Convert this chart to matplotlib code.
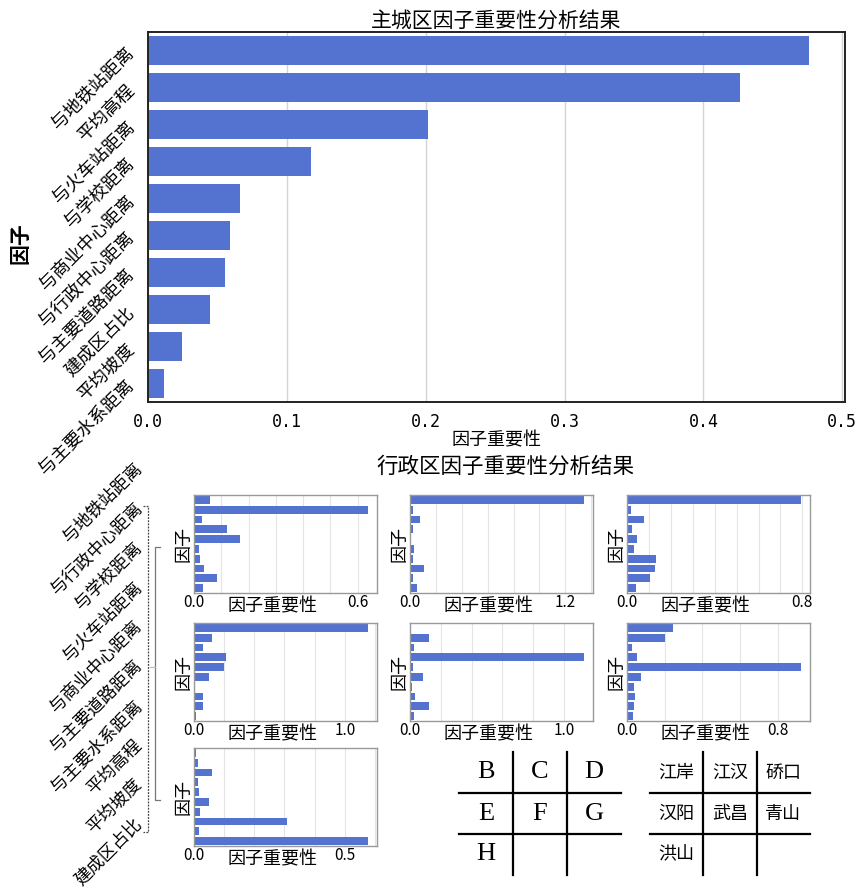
import numpy as np
import matplotlib.pyplot as plt
from matplotlib.ticker import MultipleLocator, FuncFormatter

plt.rcParams['font.family'] = ['Noto Sans CJK SC', 'DejaVu Sans']

BAR_COLOR = '#5472d0'

# 主城区
main_factors = ['与地铁站距离', '平均高程', '与火车站距离', '与学校距离', '与商业中心距离',
                '与行政中心距离', '与主要道路距离', '建成区占比', '平均坡度', '与主要水系距离']
main_importance = [0.476, 0.4265, 0.2015, 0.1175, 0.0663, 0.0590, 0.0555, 0.0447, 0.0245, 0.0115]

# 各行政区
district_factors = ['与地铁站距离', '与行政中心距离', '与学校距离', '与火车站距离', '与商业中心距离',
                    '与主要道路距离', '与主要水系距离', '平均高程', '平均坡度', '建成区占比']
jiangan = [0.059, 0.639, 0.029, 0.121, 0.168, 0.018, 0.022, 0.038, 0.085, 0.034]
jianghan = [1.346, 0.023, 0.075, 0.023, 0.002, 0.034, 0.020, 0.106, 0.027, 0.054]
qiaokou = [0.795, 0.020, 0.076, 0.024, 0.044, 0.034, 0.134, 0.129, 0.105, 0.041]
hanyang = [1.156, 0.120, 0.063, 0.213, 0.196, 0.100, 0.009, 0.058, 0.063, 0.016]
wuchang = [0.007, 0.122, 0.028, 1.131, 0.017, 0.087, 0.011, 0.035, 0.122, 0.024]
qingshan = [0.242, 0.200, 0.027, 0.051, 0.924, 0.074, 0.039, 0.044, 0.039, 0.030]
hongshan = [0.008, 0.012, 0.060, 0.013, 0.016, 0.049, 0.019, 0.309, 0.018, 0.578]
district_values = [jiangan, jianghan, qiaokou, hanyang, wuchang, qingshan, hongshan]
district_grid_step = [0.1, 0.2, 0.1, 0.2, 0.2, 0.2, 0.1]
district_tick_label = [0.6, 1.2, 0.8, 1.0, 1.0, 0.8, 0.5]

letter_codes = [['B', 'C', 'D'], ['E', 'F', 'G'], ['H', '', '']]
district_names = [['江岸', '江汉', '硚口'], ['汉阳', '武昌', '青山'], ['洪山', '', '']]

W, H = 857, 894
fig = plt.figure(figsize=(W / 100, H / 100), dpi=100)


def px_rect(x0, y0, x1, y1):
    return [x0 / W, 1 - y1 / H, (x1 - x0) / W, (y1 - y0) / H]


# ---- top: whole city ----
ax = fig.add_axes(px_rect(148, 32, 845, 402))
ypos = np.arange(len(main_factors))
ax.barh(ypos, main_importance, height=0.8, color=BAR_COLOR, zorder=2)
ax.set_ylim(len(main_factors) - 0.5, -0.5)
ax.set_xlim(0, 0.502)
ax.set_xticks(np.arange(0, 0.51, 0.1))
ax.xaxis.set_major_formatter(FuncFormatter(lambda v, p: f'{v:.1f}'))
ax.grid(axis='x', color='#d4d4d4', lw=1, zorder=0)
ax.set_yticks(ypos)
ax.set_yticklabels(main_factors, rotation=45, ha='right', va='center',
                   rotation_mode='anchor', fontsize=13)
ax.tick_params(axis='y', length=0, pad=12)
ax.tick_params(axis='x', length=0, pad=8)
for lab in ax.get_xticklabels():
    lab.set_fontfamily('DejaVu Sans Mono')
    lab.set_fontsize(12)
for s in ax.spines.values():
    s.set_color('#222222')
    s.set_linewidth(1.4)
ax.set_title('主城区因子重要性分析结果', fontsize=15, pad=2)
ax.set_xlabel('因子重要性', fontsize=13, labelpad=0)
ax.set_ylabel('因子', fontsize=15, fontweight='bold', va='center')
ax.yaxis.set_label_coords(-0.184, 0.43)

# ---- bottom: districts ----
col_x = [194, 410, 627]
row_y = [495, 623, 748]
for k, vals in enumerate(district_values):
    r, c = divmod(k, 3)
    x0, y0 = col_x[c], row_y[r]
    a = fig.add_axes(px_rect(x0, y0, x0 + 183, y0 + 98))
    yp = np.arange(len(district_factors))
    a.barh(yp, vals, height=0.8, color=BAR_COLOR, zorder=2)
    a.set_ylim(len(district_factors) - 0.5, -0.5)
    a.set_yticks([])
    step = district_grid_step[k]
    lab_v = district_tick_label[k]
    a.xaxis.set_major_locator(MultipleLocator(step))
    a.xaxis.set_major_formatter(FuncFormatter(
        lambda v, p, lv=lab_v: f'{v:.1f}' if abs(v) < 1e-9 or abs(v - lv) < 1e-9 else ''))
    a.grid(axis='x', color='#e4e4e4', lw=0.8, zorder=0)
    a.tick_params(length=0, pad=1, labelsize=11)
    for s in a.spines.values():
        s.set_color('#999999')
        s.set_linewidth(1)
    a.set_xlabel('因子重要性', fontsize=13)
    a.xaxis.set_label_coords(0.43, -0.14)
    a.xaxis.label.set_va('center')
    a.set_ylabel('因子', fontsize=13, labelpad=1)

# overlay in pixel coordinates for the shared labels, bracket and legend tables
ov = fig.add_axes([0, 0, 1, 1])
ov.set_xlim(0, W)
ov.set_ylim(H, 0)
ov.axis('off')

ov.text(505, 467, '行政区因子重要性分析结果', fontsize=15.5, ha='center', va='center')

for i, name in enumerate(district_factors):
    ov.text(139, 466 + 39.5 * i, name, fontsize=12.5, rotation=45,
            ha='right', va='center', rotation_mode='anchor')

# bracket linking the factor list to the panels
ov.plot([143, 148, 148, 143], [506, 506, 832, 832], color='#444444', lw=0.9, ls=(0, (1.5, 1)))
ov.plot([160, 155, 155, 160], [547, 547, 800, 800], color='#777777', lw=0.9)
ov.plot([150, 155], [667, 667], color='#bbbbbb', lw=0.9)


def grid_table(x0, x1, y0, y1, cells, **kw):
    cw = (x1 - x0) / 3
    rh = (y1 - y0) / 3
    for j in (1, 2):
        ov.plot([x0 + j * cw] * 2, [y0, y1], color='black', lw=1.6)
        ov.plot([x0, x1], [y0 + j * rh] * 2, color='black', lw=1.6)
    for r, row in enumerate(cells):
        for c, txt in enumerate(row):
            ov.text(x0 + (c + 0.5) * cw, y0 + (r + 0.5) * rh, txt,
                    ha='center', va='center', **kw)


grid_table(459, 621, 752, 875, letter_codes, fontsize=19, family='Liberation Serif')
grid_table(650, 810, 752, 875, district_names, fontsize=13)

fig.savefig('out.png', dpi=100, facecolor='white')
